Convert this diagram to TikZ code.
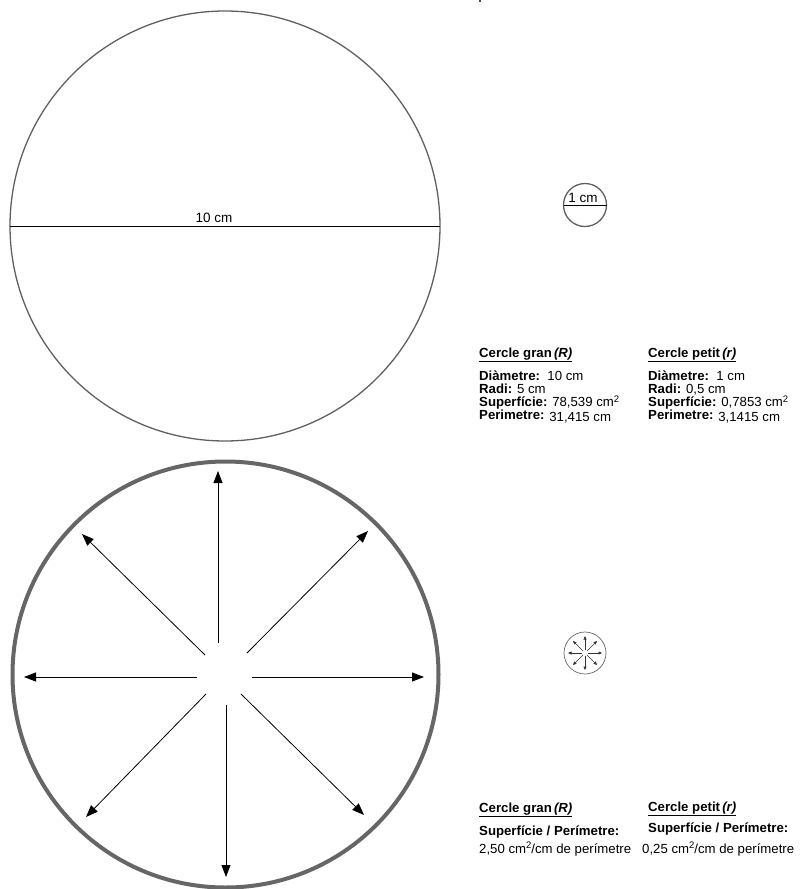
\documentclass[tikz,border=0pt]{standalone}
\usepackage{fontspec}
\setmainfont{Liberation Sans}
\usetikzlibrary{arrows.meta,calc}
\definecolor{rimgray}{HTML}{606060}
\definecolor{thickgray}{HTML}{666666}
\newcommand{\sqsup}{\raisebox{4.5pt}{\fontsize{9.5}{9.5}\selectfont 2}}
\begin{document}
\begin{tikzpicture}[x=1pt,y=-1pt,
  txt/.style={anchor=base west, inner sep=0pt, font=\fontsize{13.2}{14}\selectfont},
  dimtxt/.style={anchor=base, inner sep=0pt, font=\fontsize{13.5}{14}\selectfont},
  ray/.style={draw=black, line width=0.8pt, -{Triangle[length=12pt,width=9pt]}},
  miniray/.style={draw=black!80, line width=0.5pt, -{Triangle[length=3.5pt,width=3pt]}},
  rim/.style={draw=rimgray, line width=1.3pt},
  thickrim/.style={draw=thickgray, line width=4pt},
  thinrim/.style={draw=thickgray, line width=0.7pt}]
\useasboundingbox (0,0) rectangle (806,889);

% tiny mark at top
\coordinate (tm1) at (480,0); \coordinate (tm2) at (480,2);
\draw[line width=1.5pt, black!70] (tm1) -- (tm2);

% big circle with diameter
\coordinate (C1) at (225,226);
\draw[rim] (C1) circle[radius=215pt];
\coordinate (D1a) at (10,226); \coordinate (D1b) at (440,226);
\draw[line width=0.9pt] (D1a) -- (D1b);
\node[dimtxt] (l10) at (214,222.5) {10 cm};

% small circle with diameter
\coordinate (C2) at (585,205);
\draw[rim] (C2) circle[radius=21.5pt];
\coordinate (D2a) at (563.5,205); \coordinate (D2b) at (606.5,205);
\draw[line width=0.9pt] (D2a) -- (D2b);
\node[dimtxt] (l1) at (583,202) {1 cm};

% text block 1
\node[txt] (h1) at (479,357) {\underline{\textbf{Cercle gran}\,\textbf{\textit{(R)}}}};
\node[txt] (d1) at (479,380) {\textbf{Diàmetre:}\ \ 10 cm};
\node[txt] (r1) at (479,393.3) {\textbf{Radi:} 5 cm};
\node[txt] (s1) at (479,406.6) {\textbf{Superfície:} 78,539 cm\sqsup};
\node[txt] (p1) at (479,419.5) {\textbf{Perimetre:} \raisebox{-1.5pt}{31,415 cm}};
\node[txt] (h2) at (648,357) {\underline{\textbf{Cercle petit}\,\textbf{\textit{(r)}}}};
\node[txt] (d2) at (648,380) {\textbf{Diàmetre:}\ \ 1 cm};
\node[txt] (r2) at (648,393.3) {\textbf{Radi:} 0,5 cm};
\node[txt] (s2) at (648,406.6) {\textbf{Superfície:} 0,7853 cm\sqsup};
\node[txt] (p2) at (648,419.5) {\textbf{Perimetre:} \raisebox{-1.5pt}{3,1415 cm}};

% big circle with arrows
\coordinate (C3) at (225.5,674.5);
\draw[thickrim] (C3) circle[radius=213pt];
\coordinate (uS) at (218,643); \coordinate (uE) at (218,471);
\coordinate (dS) at (226,705); \coordinate (dE) at (226,877);
\coordinate (lS) at (197,677); \coordinate (lE) at (24,677);
\coordinate (rS) at (252,677); \coordinate (rE) at (424,677);
\coordinate (neS) at (247,653); \coordinate (neE) at (368,531);
\coordinate (nwS) at (205,655); \coordinate (nwE) at (82,534);
\coordinate (swS) at (206,694); \coordinate (swE) at (86,817);
\coordinate (seS) at (241,694); \coordinate (seE) at (364,815);
\draw[ray] (uS) -- (uE);
\draw[ray] (dS) -- (dE);
\draw[ray] (lS) -- (lE);
\draw[ray] (rS) -- (rE);
\draw[ray] (neS) -- (neE);
\draw[ray] (nwS) -- (nwE);
\draw[ray] (swS) -- (swE);
\draw[ray] (seS) -- (seE);

% small circle with arrows
\coordinate (C4) at (585,653);
\draw[thinrim] (C4) circle[radius=21pt];
\foreach \a in {0,45,...,315}{
  \coordinate (ms\a) at ($(C4)+(\a:3)$);
  \coordinate (me\a) at ($(C4)+(\a:17)$);
  \draw[miniray] (ms\a) -- (me\a);
}

% text block 2
\node[txt] (h3) at (479,812) {\underline{\textbf{Cercle gran}\,\textbf{\textit{(R)}}}};
\node[txt] (t3) at (479,835) {\textbf{Superfície / Perímetre:}};
\node[txt] (v3) at (479,853) {2,50 cm\sqsup/cm de perímetre};
\node[txt] (h4) at (648,811.5) {\underline{\textbf{Cercle petit}\,\textbf{\textit{(r)}}}};
\node[txt] (t4) at (648,832) {\textbf{Superfície / Perímetre:}};
\node[txt] (v4) at (642,853) {0,25 cm\sqsup/cm de perímetre};
\end{tikzpicture}
\end{document}
